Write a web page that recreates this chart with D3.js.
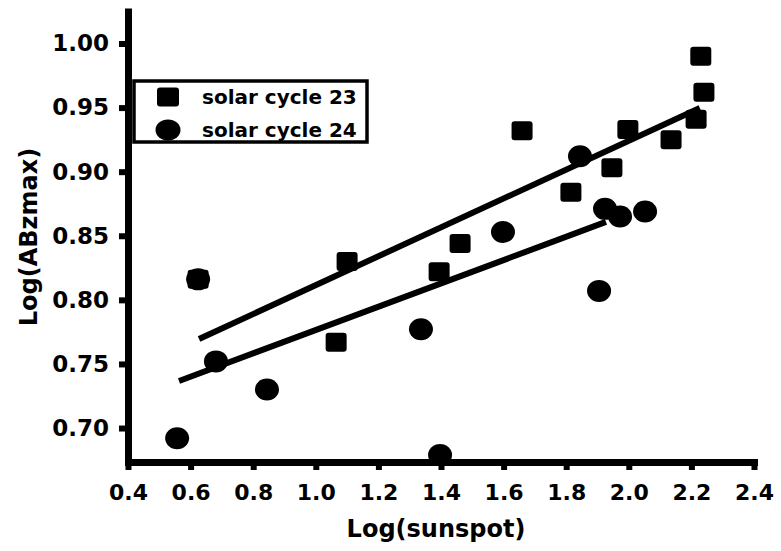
<!DOCTYPE html>
<html>
<head>
<meta charset="utf-8">
<script src="https://cdn.jsdelivr.net/npm/d3@7"></script>
<style>
  html, body { margin: 0; padding: 0; background: #fff; }
  svg text { font-family: "DejaVu Sans", sans-serif; font-weight: bold; fill: #000; }
</style>
</head>
<body>
<svg id="chart" width="781" height="551"></svg>
<script>
// ---- data ----
const xTicks = [0.4, 0.6, 0.8, 1.0, 1.2, 1.4, 1.6, 1.8, 2.0, 2.2, 2.4];
const yTicks = [0.70, 0.75, 0.80, 0.85, 0.90, 0.95, 1.00];

const cycle23X = [0.624, 1.065, 1.100, 1.394, 1.461, 1.659, 1.815, 1.946, 1.997, 2.135, 2.215, 2.230, 2.240];
const cycle23Y = [0.816, 0.767, 0.830, 0.822, 0.844, 0.932, 0.884, 0.903, 0.933, 0.925, 0.941, 0.990, 0.962];

const cycle24X = [0.557, 0.624, 0.681, 0.844, 1.336, 1.397, 1.598, 1.844, 1.905, 1.924, 1.972, 2.052];
const cycle24Y = [0.692, 0.816, 0.752, 0.730, 0.777, 0.679, 0.853, 0.912, 0.807, 0.871, 0.865, 0.869];

// fitted lines (end points)
const fit23X = [0.627, 2.227];
const fit23Y = [0.7695, 0.9497];
const fit24X = [0.563, 1.927];
const fit24Y = [0.7367, 0.8608];

const legendLabels = ["solar cycle 23", "solar cycle 24"];
const xTitle = "Log(sunspot)";
const yTitle = "Log(ABzmax)";

// ---- drawing ----
const svg = d3.select("#chart");
const x = d3.scaleLinear().domain([0.4, 2.4]).range([128, 754]);
const y = d3.scaleLinear().domain([0.6735, 1.0277]).range([462, 8]);

// regression lines
const line = d3.line().x(d => x(d[0])).y(d => y(d[1]));
[[fit23X, fit23Y], [fit24X, fit24Y]].forEach(([fx, fy]) => {
  svg.append("path")
    .attr("d", line(fx.map((v, i) => [v, fy[i]])))
    .attr("fill", "none").attr("stroke", "#000").attr("stroke-width", 6);
});

// markers
const sqW = 21, sqH = 19;
svg.append("g").selectAll("rect")
  .data(cycle23X.map((v, i) => [v, cycle23Y[i]]))
  .join("rect")
  .attr("x", d => x(d[0]) - sqW / 2).attr("y", d => y(d[1]) - sqH / 2)
  .attr("width", sqW).attr("height", sqH).attr("rx", 3)
  .attr("fill", "#000");

svg.append("g").selectAll("ellipse")
  .data(cycle24X.map((v, i) => [v, cycle24Y[i]]))
  .join("ellipse")
  .attr("cx", d => x(d[0])).attr("cy", d => y(d[1]))
  .attr("rx", 12).attr("ry", 11)
  .attr("fill", "#000");

// axes
const xAxis = svg.append("g").attr("transform", `translate(0,${y.range()[0]})`)
  .call(d3.axisBottom(x).tickValues(xTicks).tickFormat(d3.format(".1f"))
    .tickSize(8).tickSizeOuter(0).tickPadding(14));
const yAxis = svg.append("g").attr("transform", `translate(${x.range()[0]},0)`)
  .call(d3.axisLeft(y).tickValues(yTicks).tickFormat(d3.format(".2f"))
    .tickSize(9).tickSizeOuter(0).tickPadding(10));

[xAxis, yAxis].forEach(g => {
  g.select(".domain").attr("stroke", "#000").attr("stroke-width", 7);
  g.selectAll(".tick line").attr("stroke", "#000").attr("stroke-width", 6);
  g.selectAll(".tick text").attr("font-family", "DejaVu Sans").attr("font-weight", "bold").attr("fill", "#000");
});
xAxis.select(".domain").attr("stroke-linecap", "square");
yAxis.select(".domain").attr("stroke-linecap", "butt");
xAxis.selectAll(".tick text").attr("font-size", 22);
yAxis.selectAll(".tick text").attr("font-size", 23);

// axis titles
svg.append("text").attr("x", 436).attr("y", 537)
  .attr("text-anchor", "middle").attr("font-size", 24).text(xTitle);
svg.append("text").attr("transform", "translate(37,237) rotate(-90)")
  .attr("text-anchor", "middle").attr("font-size", 24).text(yTitle);

// legend
const lg = svg.append("g");
lg.append("rect").attr("x", 134).attr("y", 81).attr("width", 233).attr("height", 61)
  .attr("fill", "#fff").attr("stroke", "#000").attr("stroke-width", 3.5);
lg.append("rect").attr("x", 168 - 11).attr("y", 97 - 9.5).attr("width", 22).attr("height", 19).attr("rx", 3).attr("fill", "#000");
lg.append("ellipse").attr("cx", 168).attr("cy", 130).attr("rx", 12.5).attr("ry", 10.5).attr("fill", "#000");
lg.selectAll("text.lab").data(legendLabels).join("text").attr("class", "lab")
  .attr("x", 202).attr("y", (d, i) => 104 + i * 33)
  .attr("font-size", 20).text(d => d);
</script>
</body>
</html>
